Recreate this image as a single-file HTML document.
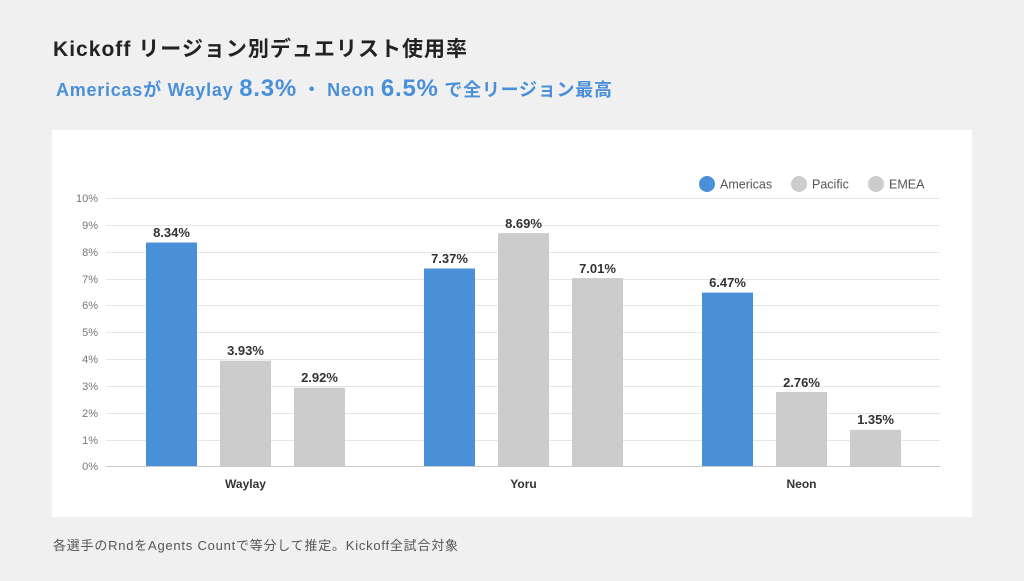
<!DOCTYPE html>
<html><head><meta charset="utf-8"><style>
body{margin:0;width:1024px;height:576px;background:#f0f0f0;overflow:hidden;font-family:"Liberation Sans","Noto Sans CJK JP",sans-serif}
</style></head><body>
<svg width="1024" height="576" xmlns="http://www.w3.org/2000/svg" font-family="Liberation Sans, Noto Sans CJK JP, sans-serif">
<text x="53" y="56" font-size="21" font-weight="bold" fill="#222" textLength="414">Kickoff リージョン別デュエリスト使用率</text>
<text x="56" y="96" font-size="18" font-weight="bold" fill="#4a90d9" textLength="556">Americasが Waylay <tspan font-size="24">8.3%</tspan> ・ Neon <tspan font-size="24">6.5%</tspan> で全リージョン最高</text>
<rect x="52" y="130" width="920" height="387" fill="#fff"/>
<g stroke="#e6e6e6" stroke-width="1">
<line x1="106" x2="940" y1="198.5" y2="198.5"/><line x1="106" x2="940" y1="225.5" y2="225.5"/>
<line x1="106" x2="940" y1="252.5" y2="252.5"/><line x1="106" x2="940" y1="279.5" y2="279.5"/>
<line x1="106" x2="940" y1="305.5" y2="305.5"/><line x1="106" x2="940" y1="332.5" y2="332.5"/>
<line x1="106" x2="940" y1="359.5" y2="359.5"/><line x1="106" x2="940" y1="386.5" y2="386.5"/>
<line x1="106" x2="940" y1="413.5" y2="413.5"/><line x1="106" x2="940" y1="440.5" y2="440.5"/>
</g>
<line x1="106" x2="940" y1="466.5" y2="466.5" stroke="#ccc"/>
<g font-size="11" fill="#777" text-anchor="end">
<text x="98" y="202">10%</text><text x="98" y="229">9%</text><text x="98" y="256">8%</text>
<text x="98" y="283">7%</text><text x="98" y="309">6%</text><text x="98" y="336">5%</text>
<text x="98" y="363">4%</text><text x="98" y="390">3%</text><text x="98" y="417">2%</text>
<text x="98" y="444">1%</text><text x="98" y="470">0%</text>
</g>
<g>
<rect x="146" y="242.5" width="51" height="223.5" fill="#4a90d9"/>
<rect x="220" y="360.7" width="51" height="105.3" fill="#cccccc"/>
<rect x="294" y="387.7" width="51" height="78.3" fill="#cccccc"/>
<rect x="424" y="268.5" width="51" height="197.5" fill="#4a90d9"/>
<rect x="498" y="233.1" width="51" height="232.9" fill="#cccccc"/>
<rect x="572" y="278.1" width="51" height="187.9" fill="#cccccc"/>
<rect x="702" y="292.6" width="51" height="173.4" fill="#4a90d9"/>
<rect x="776" y="392" width="51" height="74" fill="#cccccc"/>
<rect x="850" y="429.8" width="51" height="36.2" fill="#cccccc"/>
</g>
<g font-size="13" font-weight="bold" fill="#333" text-anchor="middle">
<text x="171.5" y="237">8.34%</text><text x="245.5" y="355">3.93%</text><text x="319.5" y="382">2.92%</text>
<text x="449.5" y="263">7.37%</text><text x="523.5" y="228">8.69%</text><text x="597.5" y="273">7.01%</text>
<text x="727.5" y="287">6.47%</text><text x="801.5" y="387">2.76%</text><text x="875.5" y="424">1.35%</text>
</g>
<g font-size="12" font-weight="bold" fill="#333" text-anchor="middle">
<text x="245.5" y="488">Waylay</text><text x="523.5" y="488">Yoru</text><text x="801.5" y="488">Neon</text>
</g>
<g font-size="12.5" fill="#555">
<circle cx="707" cy="184" r="8" fill="#4a90d9"/><text x="720" y="188.5">Americas</text>
<circle cx="799" cy="184" r="8" fill="#ccc"/><text x="812" y="188.5">Pacific</text>
<circle cx="876" cy="184" r="8" fill="#ccc"/><text x="889" y="188.5">EMEA</text>
</g>
<text x="53" y="550" font-size="13" fill="#555" textLength="405">各選手のRndをAgents Countで等分して推定。Kickoff全試合対象</text>
</svg>
</body></html>
